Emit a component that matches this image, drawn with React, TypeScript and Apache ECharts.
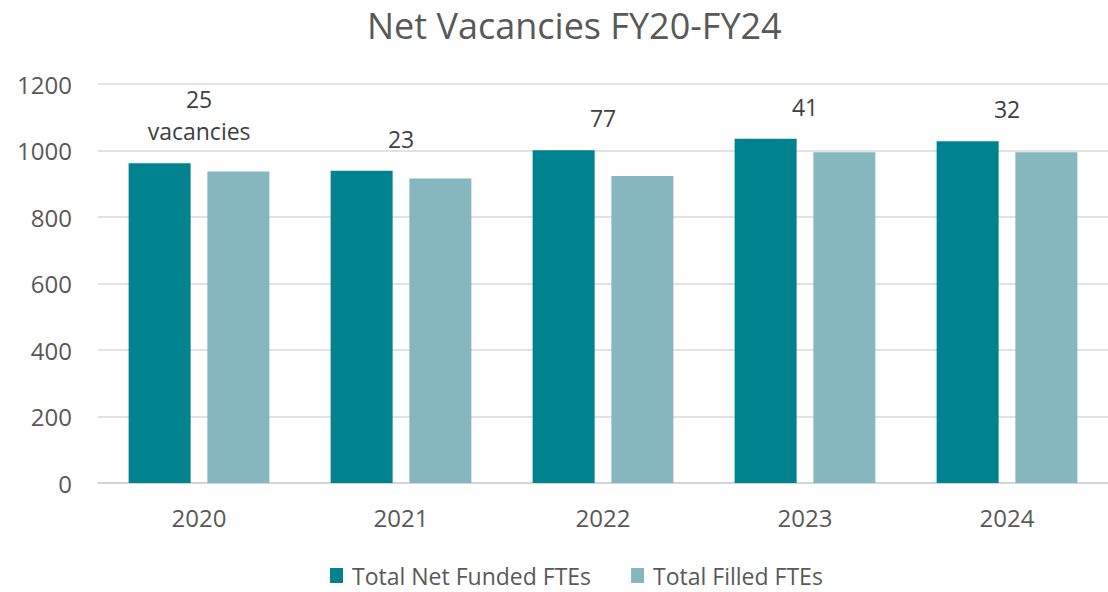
import React, { useEffect, useRef } from "react";
import * as echarts from "echarts";

const categories = ["2020", "2021", "2022", "2023", "2024"];
const fundedFTEs = [962, 939, 1001, 1035, 1028];
const filledFTEs = [937, 916, 923, 995, 995];
const vacancies = [25, 23, 77, 41, 32];
const yTicks = { min: 0, max: 1200, interval: 200 };

const FONT = "'Open Sans', 'Noto Sans', sans-serif";

export default function App() {
  const ref = useRef<HTMLDivElement>(null);
  useEffect(() => {
    if (!ref.current) return;
    const chart = echarts.init(ref.current, undefined, { renderer: "svg" });
    const barWidth = 62;
    chart.setOption({
      animation: false,
      backgroundColor: "#ffffff",
      title: {
        text: "Net Vacancies FY20-FY24",
        left: 362,
        top: 2,
        textStyle: { fontFamily: FONT, fontSize: 36, fontWeight: "normal", color: "#595959" },
      },
      legend: {
        bottom: 0,
        left: 325,
        itemWidth: 13,
        itemHeight: 15,
        itemGap: 40,
        icon: "rect",
        textStyle: { fontFamily: FONT, fontSize: 23, color: "#595959", padding: [0, 0, 0, 4] },
        data: ["Total Net Funded FTEs", "Total Filled FTEs"],
      },
      grid: { left: 98, right: 0, top: 84, bottom: 109, containLabel: false },
      xAxis: {
        type: "category",
        data: categories,
        axisLine: { lineStyle: { color: "#d0d0d0", width: 1.5 } },
        axisTick: { show: false },
        axisLabel: { fontFamily: FONT, fontSize: 24, color: "#595959", margin: 22 },
      },
      yAxis: {
        type: "value",
        min: yTicks.min,
        max: yTicks.max,
        interval: yTicks.interval,
        axisLine: { show: false },
        axisTick: { show: false },
        splitLine: { lineStyle: { color: "#d9d9d9", width: 1.5 } },
        axisLabel: {
          fontFamily: FONT,
          fontSize: 24,
          color: "#595959",
          margin: 26,
          formatter: (v: number) => String(v),
        },
      },
      series: [
        {
          name: "Total Net Funded FTEs",
          type: "bar",
          data: fundedFTEs,
          barWidth,
          barGap: "27%",
          itemStyle: { color: "#01838F" },
          label: {
            show: true,
            position: "top",
            distance: 16,
            offset: [39.5, 0],
            fontFamily: FONT,
            fontSize: 23,
            lineHeight: 32,
            color: "#404040",
            formatter: (p: any) =>
              p.dataIndex === 0 ? `${vacancies[p.dataIndex]}\nvacancies` : `${vacancies[p.dataIndex]}`,
          },
        },
        {
          name: "Total Filled FTEs",
          type: "bar",
          data: filledFTEs,
          barWidth,
          itemStyle: { color: "#86B6BE" },
        },
      ],
    });
    return () => chart.dispose();
  }, []);
  return <div ref={ref} style={{ position: "fixed", left: 0, top: 0, width: 1108, height: 592 }} />;
}
